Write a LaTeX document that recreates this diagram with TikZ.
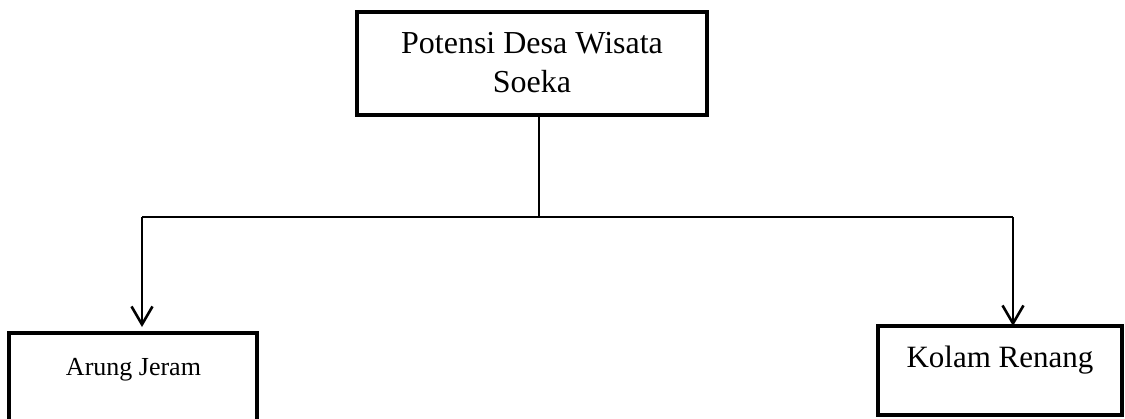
\documentclass[tikz,border=0pt]{standalone}
\usepackage{fontspec}
\setmainfont{Liberation Serif}
\usetikzlibrary{arrows.meta}
\begin{document}
\begin{tikzpicture}[x=1pt,y=-1pt,
  box/.style={draw, line width=3.2pt, rectangle, inner sep=0pt, outer sep=0pt},
  conn/.style={line width=1.5pt},
  arr/.style={line width=2.6pt, -{Straight Barb[length=18pt,width=21pt,line width=2.6pt]}},
  lbl/.style={anchor=base, inner sep=0pt}]
\useasboundingbox (0,0) rectangle (1125,418);
% boxes
\node[box, minimum width=350pt, minimum height=103pt] (top) at (532,63.5) {};
\node[box, minimum width=248pt, minimum height=107pt] (arung) at (133,386.5) {};
\node[box, minimum width=244pt, minimum height=89pt] (kolam) at (1000,370.5) {};
% texts
\node[lbl, font=\fontsize{32}{40}\selectfont] (t1) at (532,53) {Potensi Desa Wisata};
\node[lbl, font=\fontsize{32}{40}\selectfont] (t2) at (532,92) {Soeka};
\node[lbl, font=\fontsize{26}{32}\selectfont] (ta) at (133.5,375) {Arung Jeram};
\node[lbl, font=\fontsize{31}{38}\selectfont] (tk) at (1000,367) {Kolam Renang};
% connectors
\coordinate (junc) at (539,217);
\coordinate (lc) at (142,217);
\coordinate (rc) at (1013,217);
\draw[line width=1.2pt] (top.south -| junc) -- (junc);
\draw[conn] (lc) -- (rc);
\draw[arr, shorten >=6pt] (lc) -- (arung.north -| lc);
\draw[arr] (rc) -- (kolam.north -| rc);
\end{tikzpicture}
\end{document}
